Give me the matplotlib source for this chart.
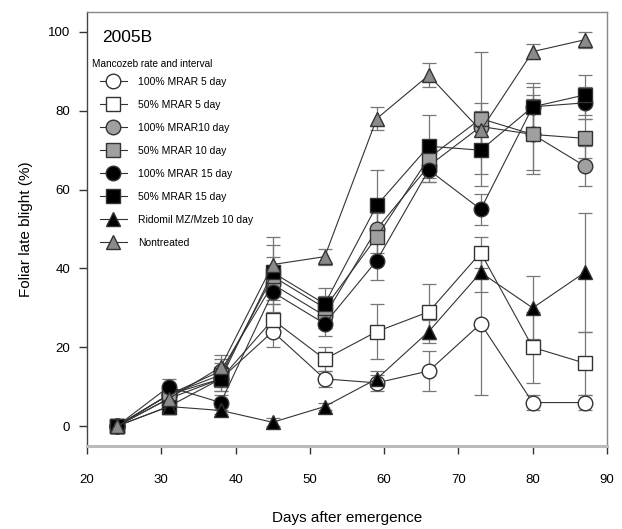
import matplotlib.pyplot as plt
import numpy as np

plt.rcParams['font.family'] = ['Liberation Sans', 'DejaVu Sans']

# 数据
days = [24, 31, 38, 45, 52, 59, 66, 73, 80, 87]

mrar100_5 = [0, 8, 12, 24, 12, 11, 14, 26, 6, 6]
mrar50_5 = [0, 7, 12, 27, 17, 24, 29, 44, 20, 16]
mrar100_10 = [0, 8, 14, 36, 28, 50, 66, 76, 74, 66]
mrar50_10 = [0, 8, 13, 38, 30, 48, 68, 78, 74, 73]
mrar100_15 = [0, 10, 6, 34, 26, 42, 65, 55, 81, 82]
mrar50_15 = [0, 5, 12, 39, 31, 56, 71, 70, 81, 84]
ridomil = [0, 5, 4, 1, 5, 12, 24, 39, 30, 39]
nontreated = [0, 7, 15, 41, 43, 78, 89, 75, 95, 98]

err100_5 = [1, 2, 2, 4, 2, 2, 5, 18, 2, 2]
err50_5 = [1, 2, 3, 4, 3, 7, 7, 4, 9, 8]
err100_10 = [1, 2, 3, 5, 3, 6, 4, 6, 9, 5]
err50_10 = [1, 2, 3, 5, 3, 6, 4, 17, 10, 5]
err100_15 = [1, 2, 2, 5, 3, 5, 3, 4, 5, 4]
err50_15 = [1, 2, 3, 7, 4, 9, 8, 6, 6, 5]
err_rid = [1, 1, 1, 1, 1, 2, 3, 5, 8, 15]
err_non = [1, 2, 3, 7, 2, 3, 3, 5, 2, 2]

labels = ["100% MRAR 5 day", "50% MRAR 5 day", "100% MRAR10 day", "50% MRAR 10 day",
          "100% MRAR 15 day", "50% MRAR 15 day", "Ridomil MZ/Mzeb 10 day", "Nontreated"]

series = [
    (mrar100_5, err100_5, 'o', 'white'),
    (mrar50_5, err50_5, 's', 'white'),
    (mrar100_10, err100_10, 'o', '#a0a0a0'),
    (mrar50_10, err50_10, 's', '#a0a0a0'),
    (mrar100_15, err100_15, 'o', 'black'),
    (mrar50_15, err50_15, 's', 'black'),
    (ridomil, err_rid, '^', 'black'),
    (nontreated, err_non, '^', '#8a8a8a'),
]

fig = plt.figure(figsize=(6.22, 5.29), dpi=100)
ax = fig.add_axes([0.1399, 0.157, 0.836, 0.820])

handles = []
for (vals, err, mk, fc), lab in zip(series, labels):
    ax.errorbar(days, vals, yerr=err, fmt='none', ecolor='#777777',
                elinewidth=0.9, capsize=5, capthick=0.9, zorder=1)
    h, = ax.plot(days, vals, marker=mk, markerfacecolor=fc, markeredgecolor='#333333',
                 markersize=10.5, color='#333333', linewidth=0.8, label=lab, zorder=2)
    handles.append(h)

ax.set_xlim(20, 90)
ax.set_ylim(-5, 105)
ax.set_xticks(np.arange(20, 91, 10))
ax.set_yticks(np.arange(0, 101, 20))
ax.tick_params(direction='out', length=6, width=1.0, labelsize=9.5, color='#333333')
ax.tick_params(axis='x', pad=14)
ax.tick_params(axis='y', pad=6)
for s in ax.spines.values():
    s.set_color('#888888')
    s.set_linewidth(1.0)
ax.spines['left'].set_color('#444444')
ax.spines['bottom'].set_linewidth(2.2)
ax.spines['bottom'].set_color('#bbbbbb')

ax.set_xlabel("Days after emergence", fontsize=11, labelpad=18)
ax.set_ylabel("Foliar late blight (%)", fontsize=11, labelpad=11)

ax.text(0.03, 0.96, "2005B", transform=ax.transAxes, fontsize=12.5, va='top')
ax.text(0.01, 0.893, "Mancozeb rate and interval", transform=ax.transAxes, fontsize=7.2, va='top')
ax.legend(handles=handles, loc='upper left', bbox_to_anchor=(0.01, 0.868), frameon=False,
          fontsize=7.5, handlelength=2.6, handletextpad=1.1, labelspacing=1.25, borderpad=0.2)

plt.savefig("out.png", dpi=100)
plt.close()
